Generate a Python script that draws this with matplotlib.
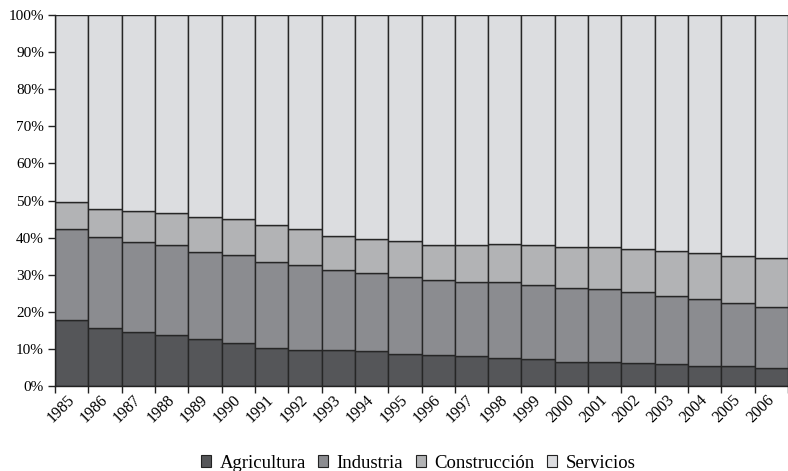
import matplotlib
matplotlib.use("Agg")
import matplotlib.pyplot as plt
import matplotlib.transforms as mtransforms
import numpy as np

plt.rcParams['font.family'] = ['Liberation Serif', 'DejaVu Serif']

years = [str(y) for y in range(1985, 2007)]

# Cumulative shares (%) at the top of each layer
agri_top = [17.8, 15.6, 14.6, 13.8, 12.6, 11.5, 10.2, 9.8, 9.8, 9.4, 8.6,
            8.3, 8.0, 7.5, 7.3, 6.6, 6.6, 6.1, 5.8, 5.5, 5.5, 4.8]
ind_top = [42.4, 40.1, 38.7, 37.9, 36.1, 35.2, 33.3, 32.5, 31.2, 30.4, 29.3,
           28.6, 28.1, 28.1, 27.2, 26.4, 26.1, 25.3, 24.2, 23.5, 22.4, 21.3]
con_top = [49.6, 47.8, 47.1, 46.7, 45.5, 45.1, 43.5, 42.4, 40.5, 39.7, 39.2,
           38.0, 38.0, 38.4, 38.0, 37.6, 37.6, 36.9, 36.5, 35.8, 35.1, 34.4]

agricultura = np.array(agri_top)
industria = np.array(ind_top) - np.array(agri_top)
construccion = np.array(con_top) - np.array(ind_top)
servicios = 100 - np.array(con_top)

series = [("Agricultura", agricultura, "#555659"),
          ("Industria", industria, "#8b8c90"),
          ("Construcción", construccion, "#b2b3b5"),
          ("Servicios", servicios, "#dcdde0")]

fig = plt.figure(figsize=(7.88, 4.71), dpi=100)
ax = fig.add_axes([55 / 788, 1 - 386 / 471, 1 - 55 / 788, (386 - 15) / 471])

x = np.arange(len(years))
bottom = np.zeros(len(years))
handles = []
for name, vals, col in series:
    b = ax.bar(x, vals, width=1.0, bottom=bottom, color=col,
               edgecolor="#262626", linewidth=1.0, label=name)
    handles.append(b)
    bottom += vals

ax.set_xlim(-0.5, len(years) - 0.5)
ax.set_ylim(0, 100)

ax.set_yticks(np.arange(0, 101, 10))
ax.set_yticklabels([f"{v}%" for v in range(0, 101, 10)], fontsize=11)

# Tick marks on the category boundaries, labels at the bar centres
ax.set_xticks(np.arange(-0.5, len(years), 1.0))
ax.set_xticklabels([])
ax.set_xticks(x, minor=True)
ax.set_xticklabels(years, minor=True, rotation=45, ha='right', va='top',
                   fontsize=11.5)
ax.tick_params(axis='x', which='minor', length=0, pad=4)
ax.tick_params(axis='x', which='major', length=5, width=1.0, color="#222222")
ax.tick_params(axis='y', length=5, width=1.0, color="#222222", pad=3)
offset = mtransforms.ScaledTranslation(6 / 100, 0, fig.dpi_scale_trans)
for lab in ax.get_xticklabels(minor=True):
    lab.set_transform(lab.get_transform() + offset)

for side in ("top", "right"):
    ax.spines[side].set_visible(False)
for side in ("left", "bottom"):
    ax.spines[side].set_color("#222222")
    ax.spines[side].set_linewidth(1.0)

leg = fig.legend(handles=handles, loc='center',
                 bbox_to_anchor=(418 / 788, 1 - 463 / 471), ncol=4,
                 frameon=False, fontsize=13.5, handlelength=0.55,
                 handleheight=0.55, handletextpad=0.45, columnspacing=0.65,
                 borderpad=0.2)
for h in leg.legend_handles:
    h.set_edgecolor("#222222")
    h.set_linewidth(0.8)

fig.savefig("out.png", dpi=100)
